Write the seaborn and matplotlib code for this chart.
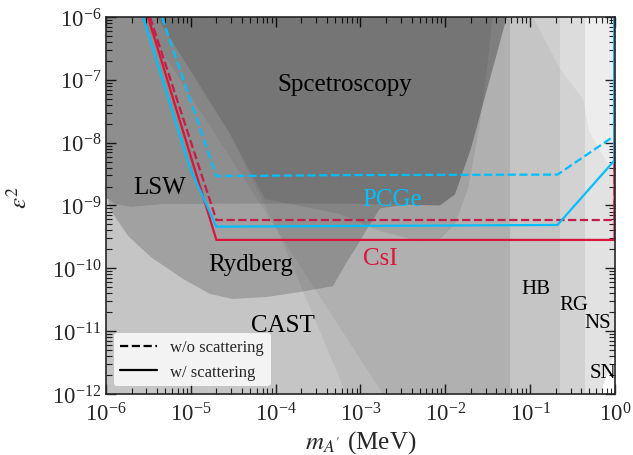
import numpy as np
import pandas as pd
import matplotlib
matplotlib.use("Agg")
import matplotlib.pyplot as plt
import seaborn as sns
from matplotlib.lines import Line2D

# ---------------- data ----------------
# limit curves (m in MeV, eps^2)
csi_ws_m = [3.13e-6, 2.0e-5, 0.99, 0.99]
csi_ws_e = [1e-6, 2.83e-10, 2.83e-10, 1e-6]
csi_wo_m = [3.30e-6, 2.0e-5, 0.99, 0.99]
csi_wo_e = [1e-6, 5.87e-10, 5.87e-10, 1e-6]
pcge_ws_m = [2.73e-6, 9.8e-6, 2.0e-5, 0.21, 0.985, 0.985]
pcge_ws_e = [1e-6, 3.9e-9, 4.6e-10, 4.9e-10, 5.2e-9, 1e-6]
pcge_wo_m = [4.57e-6, 2.0e-5, 1.0e-3, 0.21, 0.985, 0.985]
pcge_wo_e = [1e-6, 2.94e-9, 3.05e-9, 3.1e-9, 1.28e-8, 1e-6]

# excluded regions (polygon vertices)
sn_m = [1e-6, 0.667, 1.0, 1.0, 1e-6]
sn_e = [1e-12, 1e-12, 4.66e-12, 1e-6, 1e-6]
top_m = [1e-6, 0.108, 0.225, 0.42, 0.5, 0.805, 1.0, 1.0, 0.667, 1e-6]
top_e = [1e-6, 1e-6, 1.49e-7, 4.95e-8, 1.48e-8, 4.9e-9, 2.95e-9, 4.66e-12, 1e-12, 1e-12]
ns_m = [1e-6, 0.44, 0.44, 1e-6]
ns_e = [1e-12, 1e-12, 1e-6, 1e-6]
rg_m = [1e-6, 0.225, 0.225, 1e-6]
rg_e = [1e-12, 1e-12, 1e-6, 1e-6]
hb_m = [3.99e-6, 2.9e-5, 1.12e-4, 5.28e-4, 6.76e-4, 0.058, 0.058]
hb_e = [1e-6, 1.37e-8, 3.27e-10, 2.24e-12, 1e-12, 1e-12, 1e-6]
sun_m = [2.5e-6, 2.76e-4, 1.84e-3, 0.058, 0.058]
sun_e = [1e-6, 5.2e-11, 1e-12, 1e-12, 1e-6]
# LSW lower edge (shared with the top of the Rydberg region)
lsw_edge_m = [1e-6, 1.06e-6, 1.28e-6, 2.03e-6, 4.57e-6, 5.0e-5, 7.5e-4, 3.5e-3, 8.6e-3]
lsw_edge_e = [1.27e-9, 1.27e-9, 1.05e-9, 9.5e-10, 1.05e-9, 1.07e-9, 1.07e-9, 1.03e-9, 1.0e-9]
lsw_right_m = [1.3e-2, 2.0e-2, 3.1e-2, 4.3e-2, 5.3e-2]
lsw_right_e = [1.5e-9, 8.0e-9, 7.0e-8, 3.5e-7, 1e-6]
ryd_low_m = [1.06e-6, 1.11e-6, 1.82e-6, 3.4e-6, 8.1e-6, 1.68e-5, 3.14e-5, 7.9e-5, 1.94e-4,
             4.74e-4, 6.9e-4, 9.1e-4, 1.19e-3, 1.7e-3, 3.5e-3]
ryd_low_e = [1.27e-9, 8.8e-10, 3.27e-10, 1.5e-10, 6.76e-11, 3.9e-11, 3.25e-11, 3.5e-11, 4.2e-11,
             5.2e-11, 1.26e-10, 2.26e-10, 4.2e-10, 9.0e-10, 1.03e-9]
spec_m = [3.99e-6, 2.9e-5, 7.5e-5, 5.7e-4, 1.7e-3, 5.0e-3, 8.65e-3, 1.3e-2, 1.85e-2, 2.5e-2,
          3.1e-2, 3.6e-2]
spec_e = [1e-6, 1.37e-8, 1.27e-9, 7.3e-10, 3.9e-10, 2.7e-10, 2.9e-10, 5.1e-10, 1.83e-9,
          1.65e-8, 1.49e-7, 1e-6]

region_alpha = {"sn": 0.07, "top": 0.045, "ns": 0.07, "rg": 0.06, "hb": 0.05,
                "sun": 0.05, "lsw": 0.28, "ryd": 0.18, "spec": 0.08}

labels = [
    ("Spcetroscopy", 6.6e-4, 8.6e-8, 18),
    ("LSW", 4.3e-6, 1.97e-9, 18),
    ("Rydberg", 5.1e-5, 1.17e-10, 18),
    ("CAST", 1.22e-4, 1.26e-11, 18),
    ("HB", 0.117, 4.7e-11, 15),
    ("RG", 0.33, 2.7e-11, 15),
    ("NS", 0.63, 1.35e-11, 15),
    ("SN", 0.72, 2.2e-12, 15),
]

# ---------------- style ----------------
sns.set_theme(style="ticks")
plt.rcParams["font.family"] = ["Liberation Serif", "DejaVu Serif"]
plt.rcParams["mathtext.fontset"] = "stix"

fig = plt.figure(figsize=(6.33, 4.56), dpi=100)
ax = fig.add_axes([0.1675, 0.1338, 0.804, 0.8268])
ax.set_xscale("log")
ax.set_yscale("log")
ax.set_xlim(1e-6, 1)
ax.set_ylim(1e-12, 1e-6)
ax.set_facecolor("white")

lsw_m = [1e-6] + lsw_edge_m + lsw_right_m
lsw_e = [1e-6] + lsw_edge_e + lsw_right_e
ryd_m = lsw_edge_m[1:][::-1] + ryd_low_m
ryd_e = lsw_edge_e[1:][::-1] + ryd_low_e
polys = {"sn": (sn_m, sn_e), "top": (top_m, top_e), "ns": (ns_m, ns_e),
         "rg": (rg_m, rg_e), "hb": (hb_m, hb_e), "sun": (sun_m, sun_e),
         "lsw": (lsw_m, lsw_e), "ryd": (ryd_m, ryd_e), "spec": (spec_m, spec_e)}
for key, (m, e) in polys.items():
    ax.fill(m, e, color="black", alpha=region_alpha[key], lw=0, zorder=1)

crimson = "#DC143C"
crimson_dash = "#C41E48"
sky = "#00BFFF"
curves = [
    (csi_wo_m, csi_wo_e, "CsI", "w/o"),
    (csi_ws_m, csi_ws_e, "CsI", "w/"),
    (pcge_wo_m, pcge_wo_e, "PCGe", "w/o"),
    (pcge_ws_m, pcge_ws_e, "PCGe", "w/"),
]
frames = []
for m, e, det, sc in curves:
    frames.append(pd.DataFrame({"m": m, "e": e, "det": det, "sc": sc,
                                "id": det + sc}))
df = pd.concat(frames, ignore_index=True)
for key, sub in df.groupby("id", sort=False):
    det = sub["det"].iloc[0]
    sc = sub["sc"].iloc[0]
    if det == "CsI":
        col = crimson_dash if sc == "w/o" else crimson
    else:
        col = sky
    sns.lineplot(data=sub, x="m", y="e", sort=False, estimator=None, ax=ax,
                 color=col, linestyle="--" if sc == "w/o" else "-", lw=1.6,
                 zorder=3, legend=False)

for txt, x, y, fs in labels:
    ax.text(x, y, txt, fontsize=fs, ha="center", va="center", color="black", zorder=4)
ax.text(2.35e-3, 1.27e-9, "PCGe", fontsize=18, ha="center", va="center", color=sky, zorder=4)
ax.text(1.7e-3, 1.45e-10, "CsI", fontsize=18, ha="center", va="center", color=crimson, zorder=4)

handles = [Line2D([], [], color="black", ls="--", lw=1.6),
           Line2D([], [], color="black", ls="-", lw=1.6)]
leg = ax.legend(handles, ["w/o scattering", "w/ scattering"], loc="lower left",
                bbox_to_anchor=(0.0, 0.0), fontsize=12, frameon=True,
                framealpha=0.8, edgecolor="none", fancybox=True,
                handlelength=2.2, handletextpad=0.8, borderaxespad=0.45)
leg.set_zorder(5)

ax.set_xlabel(r"$m_{A'}$ (MeV)", fontsize=18, labelpad=2)
ax.set_ylabel(r"$\epsilon^2$", fontsize=18, va="center")
ax.yaxis.set_label_coords(-0.171, 0.525)
ax.tick_params(which="both", direction="in", top=True, right=True, labelsize=16.5)
ax.tick_params(axis="x", which="major", pad=6)
ax.tick_params(which="major", length=7, width=1.0)
ax.tick_params(which="minor", length=4, width=0.8)
for s in ax.spines.values():
    s.set_linewidth(1.2)
    s.set_zorder(6)

fig.savefig("out.png", dpi=100)
